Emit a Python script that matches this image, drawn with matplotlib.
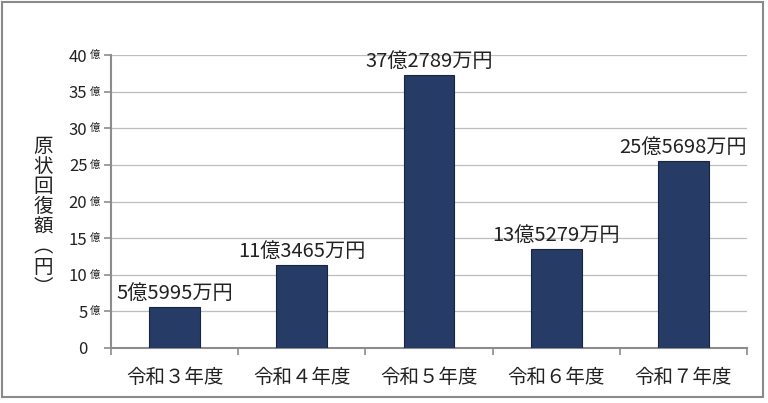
import matplotlib.pyplot as plt
from matplotlib.patches import Rectangle

plt.rcParams['font.family'] = ['Noto Sans CJK JP', 'DejaVu Sans']

# Data
years = ['令和３年度', '令和４年度', '令和５年度', '令和６年度', '令和７年度']
amounts = [5.5995, 11.3465, 37.2789, 13.5279, 25.5698]  # 億円
bar_labels = ['5億5995万円', '11億3465万円', '37億2789万円', '13億5279万円', '25億5698万円']
y_ticks = [0, 5, 10, 15, 20, 25, 30, 35, 40]

fig = plt.figure(figsize=(7.68, 4.03), dpi=100)
ax = fig.add_axes([111 / 768, 55 / 403, 636 / 768, 293 / 403])

# outer frame
fig.patches.append(Rectangle((2 / 768, 6 / 403), 761 / 768, 395 / 403,
                             transform=fig.transFigure, fill=False,
                             edgecolor='#8a8a8a', linewidth=1.5))

x = range(len(years))
bars = ax.bar(x, amounts, width=0.4, color='#263b66', edgecolor='#17253f', linewidth=0.8, zorder=3)

for b, lab in zip(bars, bar_labels):
    ax.annotate(lab, (b.get_x() + b.get_width() / 2, b.get_height()),
                xytext=(0, 2), textcoords='offset points',
                ha='center', va='bottom', fontsize=14.5, color='#222222')

ax.set_xlim(-0.5, len(years) - 0.5)
ax.set_ylim(0, 40)

# y axis: numbers as tick labels, the small 億 drawn next to them
ax.set_yticks(y_ticks)
ax.set_yticklabels([str(v) for v in y_ticks], fontsize=12, color='#222222')
ax.tick_params(axis='y', length=5, width=1.2, color='#8c8c8c', pad=12)
for v in y_ticks:
    if v:
        ax.text(-0.034, v, '億', transform=ax.get_yaxis_transform(),
                ha='left', va='center', fontsize=7.5, color='#222222')

# x axis: labels at centres, tick marks at category boundaries
ax.set_xticks(list(x))
ax.set_xticklabels(years, fontsize=14, color='#222222')
ax.tick_params(axis='x', which='major', length=0, pad=14)
ax.set_xticks([i - 0.5 for i in range(len(years) + 1)], minor=True)
ax.tick_params(axis='x', which='minor', length=5, width=1.2, color='#8c8c8c')

ax.grid(axis='y', color='#bdbdbd', linewidth=0.9, zorder=0)
ax.set_axisbelow(True)
for s in ['top', 'right']:
    ax.spines[s].set_visible(False)
for s in ['left', 'bottom']:
    ax.spines[s].set_color('#8c8c8c')
    ax.spines[s].set_linewidth(1.5)

fig.text(43 / 768, 1 - 217 / 403, '原\n状\n回\n復\n額\n︵\n円\n︶',
         ha='center', va='center', fontsize=14, linespacing=0.95, color='#222222')

fig.savefig('out.png', dpi=100)
